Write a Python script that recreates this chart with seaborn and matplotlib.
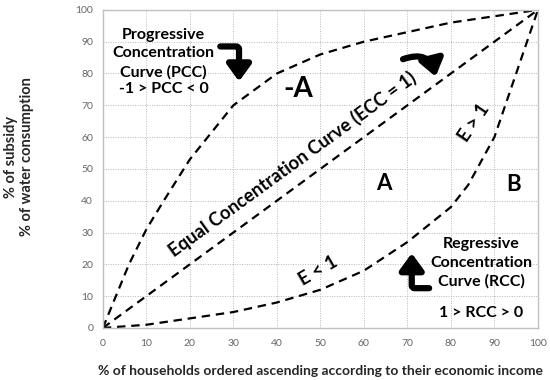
import matplotlib
matplotlib.use("Agg")
import matplotlib.pyplot as plt
import seaborn as sns
import pandas as pd
from matplotlib.patches import FancyArrowPatch

# Data
pcc_x = [0, 3, 6, 10, 14, 20, 30, 40, 50, 60, 70, 80, 90, 100]
pcc_y = [0, 10, 20, 31, 40, 53, 70, 80, 86, 90, 93, 96, 98, 100]
ecc_x = [0, 100]
ecc_y = [0, 100]
rcc_x = [0, 10, 20, 30, 40, 50, 60, 70, 80, 84, 90, 95, 100]
rcc_y = [0, 1, 3, 5, 8, 12, 18, 27, 38, 45, 60, 80, 100]
ticks = [0, 10, 20, 30, 40, 50, 60, 70, 80, 90, 100]

sns.set_theme(style="white")
plt.rcParams['font.family'] = ['Lato', 'DejaVu Sans']

fig = plt.figure(figsize=(5.5, 3.8), dpi=100)
ax = fig.add_axes([0.187, 0.137, 0.791, 0.837])

df = pd.concat([
    pd.DataFrame({"x": pcc_x, "y": pcc_y, "c": "PCC"}),
    pd.DataFrame({"x": ecc_x, "y": ecc_y, "c": "ECC"}),
    pd.DataFrame({"x": rcc_x, "y": rcc_y, "c": "RCC"}),
])
for name in ["PCC", "ECC", "RCC"]:
    sub = df[df.c == name]
    sns.lineplot(data=sub, x="x", y="y", ax=ax, color="black", lw=1.6,
                 linestyle=(0, (3.8, 2.6)), sort=False, legend=False)

ax.set_xlim(0, 100)
ax.set_ylim(0, 100)
ax.set_xticks(ticks)
ax.set_yticks(ticks)
ax.tick_params(axis="both", length=0, labelsize=7.5, labelcolor="#666666")
ax.tick_params(axis="x", pad=8)
ax.tick_params(axis="y", pad=7)
ax.grid(True, color="#b8b8b8", linestyle=(0, (1, 1.5)), lw=0.7)
for s in ax.spines.values():
    s.set_color("#c0c0c0")
    s.set_linewidth(1.0)

ax.set_xlabel("% of households ordered ascending according to their economic income",
              fontsize=10, fontweight="bold", labelpad=12)
ax.set_ylabel("")
fig.text(19 / 550, 1 - 157 / 380, "% of subsidy\n% of water consumption",
         fontsize=10.5, fontweight="bold", rotation=90, ha="center", va="center",
         linespacing=1.25, multialignment="center")

bold = dict(fontweight="bold", ha="center", va="center", color="black")
ax.text(13.8, 86.3, "Progressive\nConcentration\nCurve (PCC)", fontsize=11.5,
        linespacing=1.4, **bold)
ax.text(14, 75, "-1 > PCC < 0", fontsize=11.5, **bold)
ax.text(45, 75, "-A", fontsize=20, **bold)
ax.text(64.5, 45.5, "A", fontsize=16, **bold)
ax.text(94.3, 45, "B", fontsize=16, **bold)
ax.text(43.5, 51.5, "Equal Concentration Curve (ECC = 1)", fontsize=13.2,
        rotation=36, rotation_mode="anchor", **bold)
ax.text(49.4, 17.8, "E < 1", fontsize=13.5, rotation=30, rotation_mode="anchor", **bold)
ax.text(85.3, 64.5, "E > 1", fontsize=13.5, rotation=56, rotation_mode="anchor", **bold)
ax.text(87, 20.4, "Regressive\nConcentration\nCurve (RCC)", fontsize=11.5,
        linespacing=1.4, **bold)
ax.text(87, 4.7, "1 > RCC > 0", fontsize=11.5, **bold)

def arrow(p0, p1, conn):
    a = FancyArrowPatch(p0, p1, connectionstyle=conn,
                        arrowstyle="-|>,head_length=5.5,head_width=4",
                        lw=4.5, color="black", mutation_scale=1.8,
                        shrinkA=0, shrinkB=0)
    ax.add_patch(a)

arrow((27, 88.5), (31.3, 77.5), "angle,angleA=0,angleB=90,rad=3")
arrow((69, 84.5), (76.5, 79), "arc3,rad=-0.55")
arrow((75, 12.5), (71, 23.5), "angle,angleA=0,angleB=90,rad=3")

fig.savefig("out.png", dpi=100)
